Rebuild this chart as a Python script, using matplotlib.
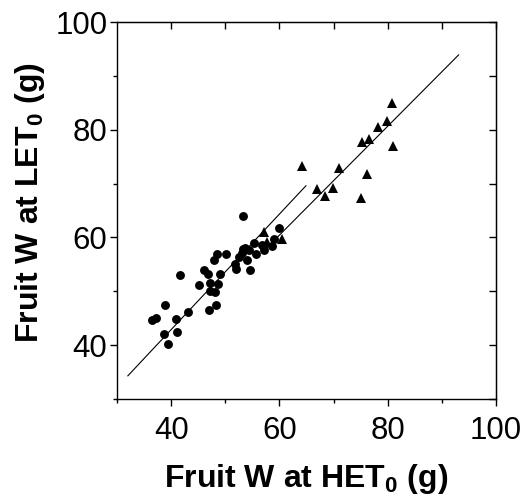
import matplotlib
matplotlib.use("Agg")
import matplotlib.pyplot as plt

plt.rcParams['font.family'] = ['Liberation Sans', 'DejaVu Sans']
plt.rcParams['mathtext.fontset'] = 'custom'
plt.rcParams['mathtext.bf'] = 'Liberation Sans:bold'

# circles: fruit weight at HET0 (x) vs LET0 (y)
circ_x = [41.6, 38.8, 37.2, 36.4, 40.9, 43.1, 38.6, 41.1, 39.4,
          45.2, 46.1, 46.8, 47.9, 49.0, 47.2, 48.6, 47.1, 48.1, 48.3, 46.9,
          48.5, 50.2, 53.3, 51.8, 52.0, 52.6, 53.3, 54.4, 54.0, 54.5,
          55.3, 55.6, 56.8, 57.1, 58.7, 59.0, 59.9, 53.1, 53.7]
circ_y = [53.0, 47.4, 45.1, 44.6, 44.8, 46.2, 42.0, 42.4, 40.2,
          51.2, 54.0, 53.3, 55.9, 53.3, 51.6, 51.3, 50.1, 49.8, 47.5, 46.5,
          56.9, 57.0, 64.0, 55.1, 54.2, 56.3, 57.8, 57.6, 55.9, 53.9,
          59.0, 57.0, 58.6, 57.7, 58.4, 59.8, 61.7, 57.1, 58.0]

# triangles
tri_x = [64.1, 71.0, 67.0, 69.8, 68.5, 76.2, 75.1, 75.3, 76.6, 78.2,
         79.8, 80.7, 80.9, 57.1, 60.5, 57.7]
tri_y = [73.3, 72.8, 68.9, 69.1, 67.7, 71.8, 67.4, 77.7, 78.3, 80.5,
         81.7, 84.9, 76.9, 61.1, 59.8, 59.2]

# regression lines (end points)
fit_circ_x = [32.0, 64.9]
fit_circ_y = [34.3, 69.6]
fit_tri_x = [57.0, 93.1]
fit_tri_y = [57.4, 93.9]

fig = plt.figure(figsize=(5.25, 4.99), dpi=100)
ax = fig.add_axes([0.2229, 0.2004, 0.7219, 0.7555])

ax.plot(fit_circ_x, fit_circ_y, color="black", lw=0.8)
ax.plot(fit_tri_x, fit_tri_y, color="black", lw=0.8)
ax.plot(circ_x, circ_y, "o", color="black", ms=6.4, mew=0)
ax.plot(tri_x, tri_y, "^", color="black", ms=7.0, mew=0)

ax.set_xlim(30, 100)
ax.set_ylim(30, 100)
ax.set_xticks([40, 60, 80, 100])
ax.set_yticks([40, 60, 80, 100])
ax.set_xticks([30, 50, 70, 90], minor=True)
ax.set_yticks([30, 50, 70, 90], minor=True)
ax.tick_params(which="major", direction="out", length=5, width=1, labelsize=22.5)
ax.tick_params(axis="x", which="major", pad=7)
ax.tick_params(axis="y", which="major", pad=2)
ax.tick_params(which="minor", direction="out", length=3, width=1)
for s in ax.spines.values():
    s.set_linewidth(1.0)

# inward ticks on top and right
top = ax.secondary_xaxis("top")
top.set_xticks(range(40, 101, 10))
top.tick_params(direction="in", length=5, width=1, labeltop=False)
right = ax.secondary_yaxis("right")
right.set_yticks(range(30, 101, 10))
right.tick_params(direction="in", length=5, width=1, labelright=False)

ax.set_xlabel(r"Fruit W at HET$_\mathbf{0}$ (g)", fontsize=23, fontweight="bold", labelpad=12)
ax.set_ylabel(r"Fruit W at LET$_\mathbf{0}$ (g)", fontsize=23, fontweight="bold")
ax.yaxis.set_label_coords(-0.186, 0.521)

fig.savefig("out.png", dpi=100)
